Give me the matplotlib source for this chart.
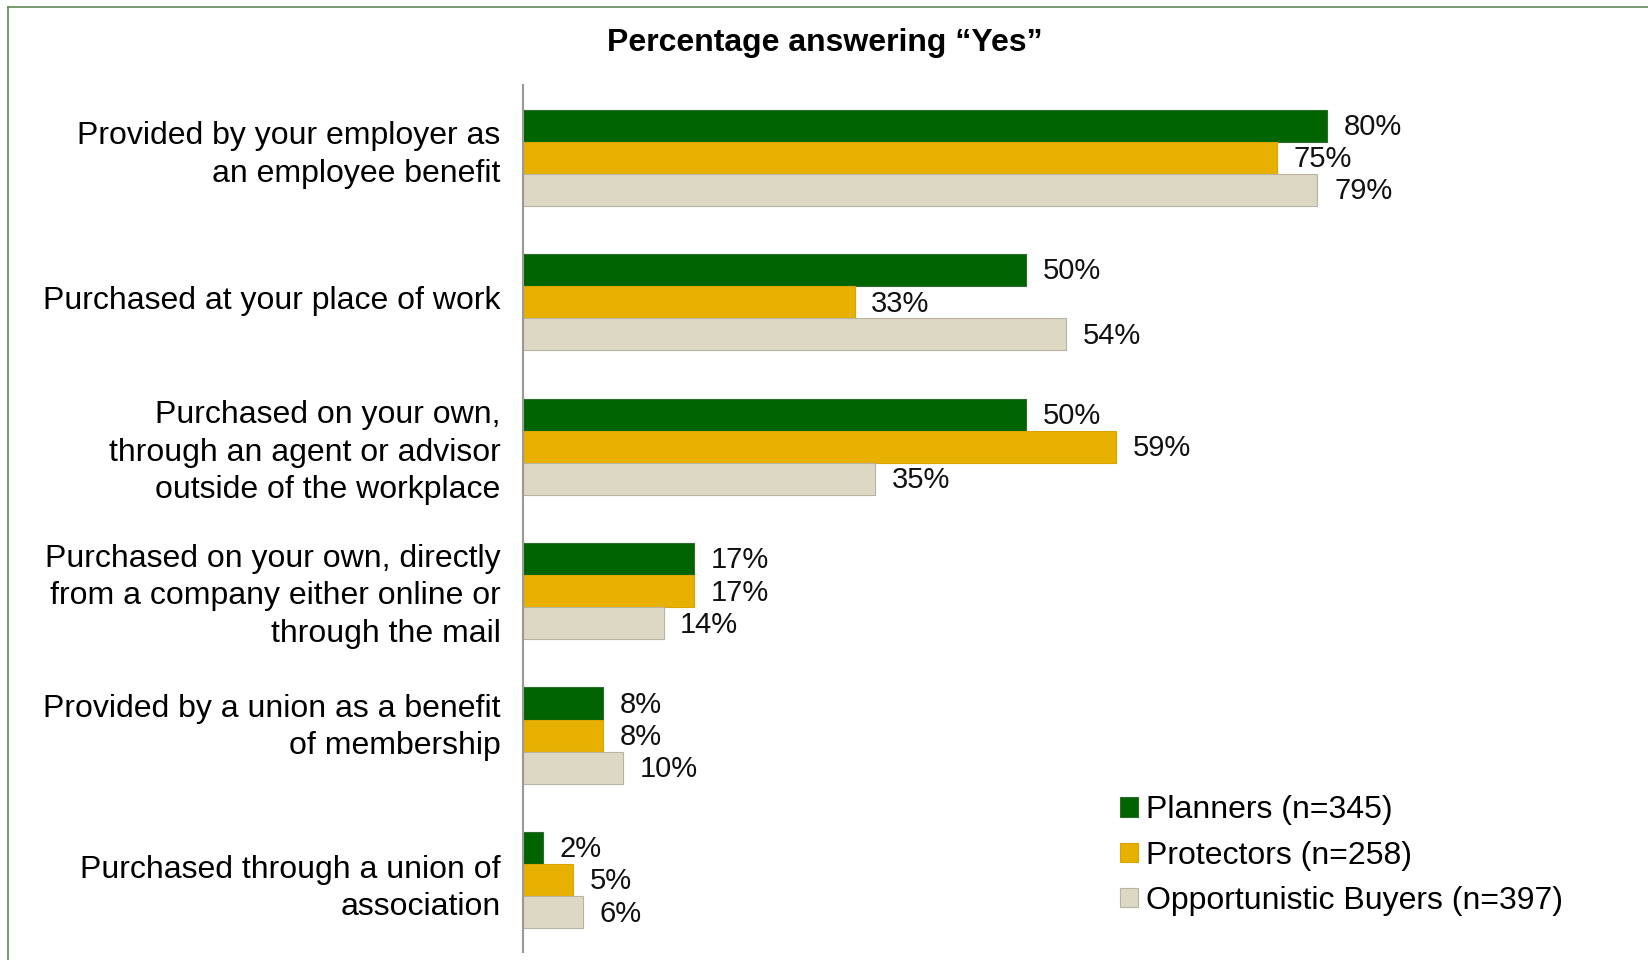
import matplotlib
matplotlib.use("Agg")
import matplotlib.pyplot as plt
import matplotlib.transforms as mtransforms
import numpy as np
from matplotlib.lines import Line2D
from matplotlib.patches import Patch

plt.rcParams["font.family"] = ["Liberation Sans", "DejaVu Sans"]

categories = [
    "Provided by your employer as\nan employee benefit",
    "Purchased at your place of work",
    "Purchased on your own,\nthrough an agent or advisor\noutside of the workplace",
    "Purchased on your own, directly\nfrom a company either online or\nthrough the mail",
    "Provided by a union as a benefit\nof membership",
    "Purchased through a union of\nassociation",
]
series_names = ["Planners (n=345)", "Protectors (n=258)", "Opportunistic Buyers (n=397)"]
planners = [80, 50, 50, 17, 8, 2]
protectors = [75, 33, 59, 17, 8, 5]
opportunistic = [79, 54, 35, 14, 10, 6]

colors = ["#006400", "#E8B000", "#DDD8C4"]
edges = ["#2f6b2f", "#d9a500", "#b8b4a4"]

fig = plt.figure(figsize=(16.49, 9.6), dpi=100)
ax = fig.add_axes([0.317, 0.008, 0.61, 0.903])

y = np.arange(len(categories))
h = 0.222
for i, (vals, col, ec) in enumerate(zip([planners, protectors, opportunistic], colors, edges)):
    pos = y + (i - 1) * h
    ax.barh(pos, vals, height=h, color=col, edgecolor=ec, linewidth=0.8)
    for p, v in zip(pos, vals):
        ax.annotate(f"{v}%", (v, p), xytext=(12, -1), textcoords="offset points",
                    va="center", ha="left", fontsize=21, color="#111111")

ax.set_xlim(0, 100)
ax.set_ylim(len(categories) - 0.5, -0.5)
ax.set_yticks(y)
ax.set_yticklabels(categories, fontsize=23, linespacing=1.32)
ax.tick_params(axis="y", length=0, pad=16)
ax.set_xticks([])
for s in ["top", "right", "bottom"]:
    ax.spines[s].set_visible(False)
ax.spines["left"].set_color("#999999")
ax.spines["left"].set_linewidth(1.5)

# small vertical nudges so the labels sit as in the original slide
label_shift_px = [10, 5, 1, 2, 15, -1]
for lab, dy in zip(ax.get_yticklabels(), label_shift_px):
    lab.set_transform(lab.get_transform() +
                      mtransforms.ScaledTranslation(0, dy / 100, fig.dpi_scale_trans))

fig.text(0.5, 0.955, "Percentage answering \u201cYes\u201d", ha="center", va="center",
         fontsize=23, fontweight="bold")

handles = [Patch(facecolor=c, edgecolor=e, linewidth=0.8) for c, e in zip(colors, edges)]
fig.legend(handles, series_names, loc="upper left", bbox_to_anchor=(0.6716, 0.185),
           frameon=False, fontsize=23, handlelength=0.55, handleheight=0.55,
           handletextpad=0.25, labelspacing=0.48, borderaxespad=0)

# frame lines (top and left) around the chart
fig.add_artist(Line2D([8 / 1649, 8 / 1649], [0, 1 - 7 / 960], color="#5e8a52", linewidth=1.2))
fig.add_artist(Line2D([8 / 1649, 1], [1 - 7 / 960, 1 - 7 / 960], color="#5e8a52", linewidth=1.2))

fig.savefig("out.png", dpi=100)
